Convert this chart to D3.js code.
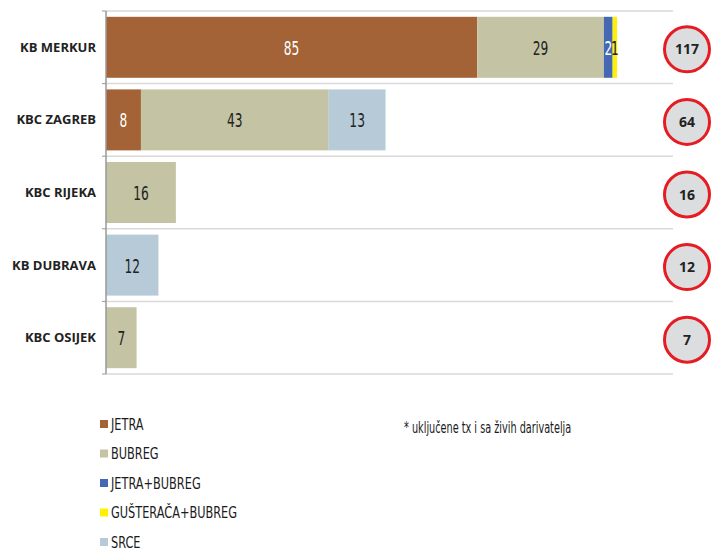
<!DOCTYPE html>
<html>
<head>
<meta charset="utf-8">
<script src="https://cdn.jsdelivr.net/npm/d3@7"></script>
<style>
  body { margin: 0; background: #fff; }
  .cat { font-family: "Open Sans", sans-serif; font-weight: bold; font-size: 13px; fill: #222; }
  .val { font-family: "DejaVu Sans Condensed", sans-serif; font-size: 20px; }
  .tot { font-family: "Open Sans", sans-serif; font-weight: bold; font-size: 14px; fill: #222; }
  .leg { font-family: "DejaVu Sans Condensed", sans-serif; font-size: 15px; fill: #1a1a1a; }
</style>
</head>
<body>
<div class="chart"></div>
<script>
// data
var categories = ["KB MERKUR", "KBC ZAGREB", "KBC RIJEKA", "KB DUBRAVA", "KBC OSIJEK"];
var seriesNames = ["JETRA", "BUBREG", "JETRA+BUBREG", "GUŠTERAČA+BUBREG", "SRCE"];
var jetra = [85, 8, 0, 0, 0];
var bubreg = [29, 43, 16, 0, 7];
var jetraBubreg = [2, 0, 0, 0, 0];
var gusteracaBubreg = [1, 0, 0, 0, 0];
var srce = [0, 13, 0, 12, 0];
var totals = [117, 64, 16, 12, 7];
var colors = ["#a46237", "#c4c4a4", "#4468b4", "#fff200", "#b7cad8"];
var labelColors = ["#fff", "#222", "#fff", "#222", "#222"];
var footnote = "* uključene tx i sa živih darivatelja";

var seriesValues = [jetra, bubreg, jetraBubreg, gusteracaBubreg, srce];

var rows = categories.map(function(c, i) {
  var r = { cat: c };
  seriesNames.forEach(function(s, j) { r[s] = seriesValues[j][i]; });
  return r;
});

var svgWidth = 718, svgHeight = 550;
var svg = d3.select(".chart").append("svg")
  .attr("width", svgWidth)
  .attr("height", svgHeight);

var x0 = 106, plotTop = 11, plotBottom = 374, gridRight = 673;

var xScale = d3.scaleLinear().domain([0, 117]).range([x0, 617]);
var yScale = d3.scaleBand().domain(categories)
  .range([plotTop, plotBottom])
  .paddingInner(0.16).paddingOuter(0.08);

var step = yScale.step();

// grid lines between categories
d3.range(categories.length + 1).forEach(function(i) {
  var y = plotTop + i * step;
  svg.append("line")
    .attr("x1", x0).attr("x2", gridRight)
    .attr("y1", y).attr("y2", y)
    .attr("stroke", "#d9d9d9").attr("stroke-width", 1.5);
  svg.append("line")
    .attr("x1", x0 - 4).attr("x2", x0)
    .attr("y1", y).attr("y2", y)
    .attr("stroke", "#999").attr("stroke-width", 1);
});

var stack = d3.stack().keys(seriesNames);
var stacked = stack(rows);

var layers = svg.selectAll("g.layer")
  .data(stacked)
  .enter().append("g")
  .attr("class", "layer")
  .attr("fill", (d, i) => colors[i]);

layers.selectAll("rect")
  .data(d => d)
  .enter().append("rect")
  .attr("x", d => xScale(d[0]))
  .attr("y", d => yScale(d.data.cat))
  .attr("width", d => xScale(d[1]) - xScale(d[0]))
  .attr("height", yScale.bandwidth());

// value labels, squeezed to look like the narrow original font
layers.each(function(layer, i) {
  d3.select(this).selectAll("text")
    .data(layer.filter(d => d[1] - d[0] > 0))
    .enter().append("text")
    .attr("class", "val")
    .attr("fill", labelColors[i])
    .attr("text-anchor", "middle")
    .attr("transform", d => "translate(" + ((xScale(d[0]) + xScale(d[1])) / 2) + "," +
      (yScale(d.data.cat) + yScale.bandwidth() / 2 + 7.5) + ") scale(0.68,1)")
    .text(d => d[1] - d[0]);
});

// y axis
svg.append("line")
  .attr("x1", x0).attr("x2", x0)
  .attr("y1", plotTop).attr("y2", plotBottom)
  .attr("stroke", "#999").attr("stroke-width", 1.5);

svg.selectAll("text.cat")
  .data(categories)
  .enter().append("text")
  .attr("class", "cat")
  .attr("text-anchor", "end")
  .attr("x", 96)
  .attr("y", d => yScale(d) + yScale.bandwidth() / 2 + 4.5)
  .text(d => d);

// total circles
var totG = svg.selectAll("g.tot")
  .data(totals)
  .enter().append("g")
  .attr("transform", (d, i) => "translate(687," + (yScale(categories[i]) + yScale.bandwidth() / 2 + 2) + ")");

totG.append("circle")
  .attr("r", 22.5)
  .attr("fill", "#dcdddf")
  .attr("stroke", "#e51c23")
  .attr("stroke-width", 3);

totG.append("text")
  .attr("class", "tot")
  .attr("text-anchor", "middle")
  .attr("y", 5)
  .text(d => d);

// legend
var legend = svg.selectAll("g.leg")
  .data(seriesNames)
  .enter().append("g")
  .attr("transform", (d, i) => "translate(100," + (424 + i * 29.5) + ")");

legend.append("rect")
  .attr("x", 0).attr("y", -4)
  .attr("width", 8).attr("height", 8)
  .attr("fill", (d, i) => colors[i]);

legend.append("text")
  .attr("class", "leg")
  .attr("transform", "translate(11,5.5) scale(0.84,1)")
  .text(d => d);

svg.append("text")
  .attr("class", "leg")
  .attr("transform", "translate(404,433) scale(0.72,1)")
  .text(footnote);
</script>
</body>
</html>
